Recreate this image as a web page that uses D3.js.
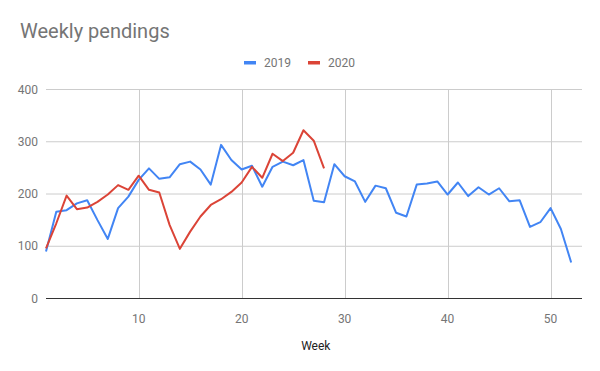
<!DOCTYPE html>
<html>
<head>
<meta charset="utf-8">
<script src="https://cdn.jsdelivr.net/npm/d3@7"></script>
<style>
  body { margin: 0; background: #fff; }
  text { font-family: Roboto, Arial, sans-serif; }
</style>
</head>
<body>
<div id="chart"></div>
<script>
// week numbers and weekly values
var weeks2019 = d3.range(1, 53);
var values2019 = [90, 166, 169, 182, 188, 150, 114, 173, 195, 227,
                  249, 229, 232, 257, 262, 247, 218, 294, 265, 247,
                  254, 214, 252, 262, 255, 265, 187, 184, 257, 234,
                  224, 185, 216, 211, 164, 157, 218, 220, 224, 199,
                  222, 196, 213, 199, 211, 186, 188, 137, 146, 173,
                  133, 69];
var weeks2020 = d3.range(1, 29);
var values2020 = [96, 144, 197, 171, 174, 185, 199, 217, 208, 235,
                  208, 203, 141, 95, 128, 157, 179, 190, 204, 222,
                  252, 231, 277, 263, 279, 322, 302, 249];
var seriesNames = ['2019', '2020'];
var seriesColors = ['#4285f4', '#db4437'];
var yTicks = [0, 100, 200, 300, 400];
var xTicks = [10, 20, 30, 40, 50];

var W = 600, H = 371;
var margin = { top: 89.5, right: 18, bottom: 72.5, left: 46 };
var width = W - margin.left - margin.right;
var height = H - margin.top - margin.bottom;

var svg = d3.select('#chart').append('svg')
    .attr('width', W).attr('height', H);

svg.append('text')
    .attr('x', 20).attr('y', 38)
    .style('font-size', '20px')
    .attr('fill', '#757575')
    .text('Weekly pendings');

var g = svg.append('g')
    .attr('transform', 'translate(' + margin.left + ',' + margin.top + ')');

var x = d3.scaleLinear().domain([1, 53.05]).range([0, width]);
var y = d3.scaleLinear().domain([0, 400]).range([height, 0]);

// gridlines
g.selectAll('.hgrid').data(yTicks.filter(function(d){ return d > 0; }))
  .enter().append('line')
    .attr('x1', 0).attr('x2', width)
    .attr('y1', function(d){ return y(d); }).attr('y2', function(d){ return y(d); })
    .attr('stroke', '#cccccc').attr('stroke-width', 1);
g.selectAll('.vgrid').data(xTicks)
  .enter().append('line')
    .attr('x1', function(d){ return Math.round(x(d)) + 0.5; })
    .attr('x2', function(d){ return Math.round(x(d)) + 0.5; })
    .attr('y1', 0).attr('y2', height)
    .attr('stroke', '#cccccc').attr('stroke-width', 1);

// tick labels
g.selectAll('.ylab').data(yTicks)
  .enter().append('text')
    .attr('x', -8).attr('y', function(d){ return y(d); })
    .attr('dy', '0.35em')
    .attr('text-anchor', 'end')
    .style('font-size', '12px')
    .attr('fill', '#757575')
    .text(function(d){ return d; });
g.selectAll('.xlab').data(xTicks)
  .enter().append('text')
    .attr('x', function(d){ return x(d); }).attr('y', height + 24)
    .attr('text-anchor', 'middle')
    .style('font-size', '12px')
    .attr('fill', '#757575')
    .text(function(d){ return d; });

// lines
var line = d3.line()
    .x(function(d){ return x(d[0]); })
    .y(function(d){ return y(d[1]); });

[[weeks2019, values2019], [weeks2020, values2020]].forEach(function(s, i){
    var pts = s[0].map(function(w, j){ return [w, s[1][j]]; });
    g.append('path')
        .datum(pts)
        .attr('fill', 'none')
        .attr('stroke', seriesColors[i])
        .attr('stroke-width', 2)
        .attr('stroke-linejoin', 'round')
        .attr('d', line);
});

// baseline
g.append('line')
    .attr('x1', 0).attr('x2', width)
    .attr('y1', y(0)).attr('y2', y(0))
    .attr('stroke', '#333333').attr('stroke-width', 1);

// axis title
svg.append('text')
    .attr('x', margin.left + x(27.2)).attr('y', 350)
    .attr('text-anchor', 'middle')
    .style('font-size', '12px')
    .attr('fill', '#222222')
    .text('Week');

// legend
var legX = [244, 308];
seriesNames.forEach(function(n, i){
    svg.append('rect')
        .attr('x', legX[i]).attr('y', 61)
        .attr('width', 12).attr('height', 3.5)
        .attr('fill', seriesColors[i]);
    svg.append('text')
        .attr('x', legX[i] + 20).attr('y', 63)
        .attr('dy', '0.35em')
        .style('font-size', '12px')
        .attr('fill', '#757575')
        .text(n);
});
</script>
</body>
</html>
